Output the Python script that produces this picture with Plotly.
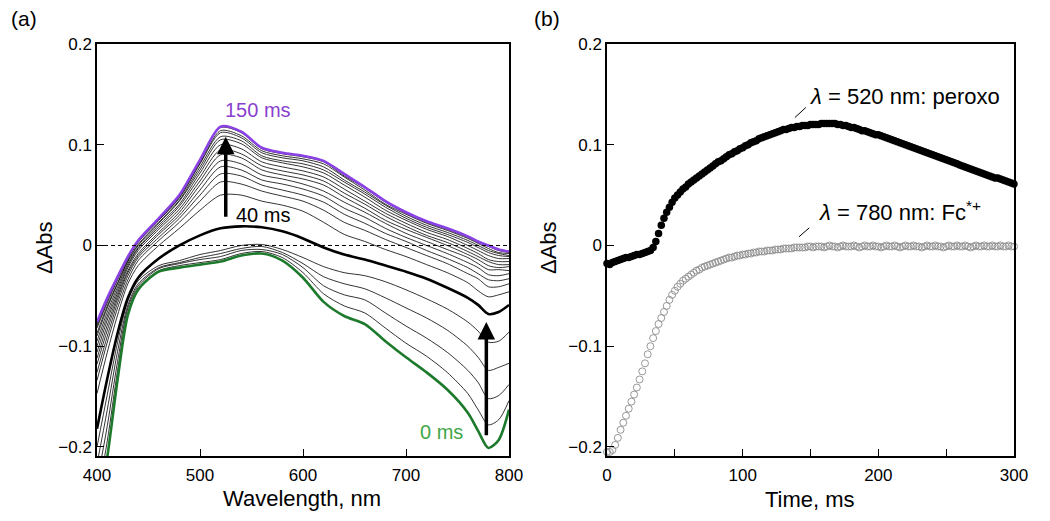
import plotly.graph_objects as go

# ---------------- data: panel (a) spectra ----------------
wavelength = [400, 410, 420, 430, 440, 460, 480, 500, 520, 540, 560, 580, 600,
              620, 640, 660, 680, 700, 720, 740, 760, 770, 780, 790, 800]

s0 = [-0.270, -0.210, -0.133, -0.069, -0.044, -0.026, -0.022, -0.019, -0.016, -0.010, -0.008, -0.015, -0.032,
      -0.056, -0.070, -0.078, -0.095, -0.111, -0.126, -0.143, -0.166, -0.184, -0.201, -0.193, -0.163]
s8 = [-0.252, -0.194, -0.124, -0.066, -0.042, -0.025, -0.020, -0.017, -0.014, -0.008, -0.006, -0.012, -0.027,
      -0.048, -0.060, -0.067, -0.082, -0.097, -0.110, -0.126, -0.147, -0.163, -0.178, -0.173, -0.154]
s16 = [-0.235, -0.179, -0.115, -0.062, -0.040, -0.023, -0.018, -0.014, -0.011, -0.005, -0.004, -0.009, -0.022,
       -0.040, -0.049, -0.054, -0.067, -0.080, -0.092, -0.106, -0.124, -0.136, -0.152, -0.149, -0.138]
s24 = [-0.217, -0.163, -0.105, -0.059, -0.038, -0.022, -0.017, -0.012, -0.008, -0.003, -0.001, -0.007, -0.018,
       -0.031, -0.038, -0.043, -0.052, -0.062, -0.072, -0.084, -0.100, -0.111, -0.124, -0.121, -0.117]
s32 = [-0.200, -0.148, -0.096, -0.055, -0.035, -0.020, -0.015, -0.009, -0.005, 0.000, 0.001, -0.004, -0.012,
       -0.021, -0.027, -0.030, -0.036, -0.044, -0.053, -0.063, -0.076, -0.085, -0.096, -0.095, -0.086]
s40 = [-0.182, -0.132, -0.087, -0.052, -0.032, -0.013, 0.000, 0.010, 0.017, 0.019, 0.018, 0.014, 0.007,
       -0.002, -0.009, -0.014, -0.020, -0.026, -0.033, -0.042, -0.052, -0.059, -0.068, -0.066, -0.059]
s48 = [-0.147, -0.106, -0.069, -0.038, -0.020, 0.000, 0.017, 0.035, 0.050, 0.050, 0.044, 0.040, 0.034,
       0.023, 0.011, 0.004, -0.004, -0.011, -0.019, -0.027, -0.037, -0.045, -0.051, -0.049, -0.046]
s56 = [-0.134, -0.096, -0.062, -0.034, -0.015, 0.005, 0.023, 0.044, 0.063, 0.061, 0.054, 0.049, 0.044,
       0.035, 0.023, 0.015, 0.006, -0.002, -0.010, -0.018, -0.028, -0.033, -0.041, -0.041, -0.038]
s64 = [-0.126, -0.090, -0.057, -0.030, -0.012, 0.008, 0.027, 0.050, 0.071, 0.069, 0.060, 0.055, 0.050,
       0.043, 0.031, 0.022, 0.012, 0.004, -0.005, -0.013, -0.022, -0.028, -0.034, -0.035, -0.033]
s72 = [-0.118, -0.084, -0.053, -0.027, -0.010, 0.011, 0.030, 0.055, 0.078, 0.075, 0.065, 0.061, 0.056,
       0.049, 0.037, 0.028, 0.017, 0.008, 0.000, -0.008, -0.017, -0.022, -0.029, -0.030, -0.028]
s80 = [-0.112, -0.079, -0.050, -0.025, -0.008, 0.013, 0.033, 0.060, 0.084, 0.081, 0.070, 0.066, 0.061,
       0.054, 0.043, 0.033, 0.022, 0.012, 0.004, -0.004, -0.012, -0.018, -0.024, -0.024, -0.025]
s88 = [-0.106, -0.074, -0.047, -0.022, -0.005, 0.016, 0.036, 0.064, 0.090, 0.087, 0.075, 0.070, 0.066,
       0.060, 0.048, 0.037, 0.025, 0.016, 0.008, 0.000, -0.009, -0.014, -0.020, -0.022, -0.021]
s96 = [-0.100, -0.070, -0.044, -0.020, -0.003, 0.018, 0.039, 0.068, 0.095, 0.091, 0.079, 0.074, 0.070,
       0.064, 0.052, 0.041, 0.029, 0.019, 0.010, 0.003, -0.006, -0.011, -0.016, -0.019, -0.019]
s104 = [-0.095, -0.066, -0.041, -0.018, -0.002, 0.020, 0.041, 0.072, 0.100, 0.096, 0.083, 0.078, 0.074,
        0.068, 0.056, 0.044, 0.032, 0.022, 0.013, 0.006, -0.003, -0.008, -0.014, -0.016, -0.016]
s112 = [-0.090, -0.062, -0.038, -0.016, 0.000, 0.022, 0.044, 0.075, 0.105, 0.101, 0.087, 0.082, 0.078,
        0.072, 0.060, 0.048, 0.035, 0.025, 0.016, 0.009, 0.000, -0.005, -0.010, -0.013, -0.013]
s120 = [-0.087, -0.060, -0.037, -0.015, 0.001, 0.023, 0.045, 0.078, 0.108, 0.104, 0.089, 0.084, 0.081,
        0.075, 0.063, 0.051, 0.038, 0.027, 0.018, 0.011, 0.003, -0.002, -0.007, -0.010, -0.011]
s128 = [-0.082, -0.057, -0.034, -0.013, 0.003, 0.025, 0.047, 0.081, 0.112, 0.107, 0.092, 0.087, 0.084,
        0.078, 0.065, 0.053, 0.040, 0.029, 0.020, 0.013, 0.005, 0.000, -0.005, -0.008, -0.010]
s136 = [-0.080, -0.055, -0.033, -0.013, 0.004, 0.025, 0.048, 0.082, 0.114, 0.109, 0.094, 0.089, 0.086,
        0.081, 0.068, 0.055, 0.041, 0.031, 0.022, 0.015, 0.007, 0.002, -0.003, -0.007, -0.008]
s144 = [-0.078, -0.053, -0.032, -0.012, 0.004, 0.026, 0.049, 0.084, 0.117, 0.112, 0.096, 0.091, 0.088,
        0.083, 0.069, 0.057, 0.043, 0.032, 0.023, 0.016, 0.008, 0.003, -0.001, -0.005, -0.007]
s150 = [-0.076, -0.052, -0.031, -0.011, 0.005, 0.027, 0.050, 0.085, 0.118, 0.113, 0.097, 0.092, 0.089,
        0.084, 0.071, 0.058, 0.044, 0.033, 0.024, 0.017, 0.009, 0.004, 0.000, -0.004, -0.006]

thin_spectra = [s8, s16, s24, s32, s48, s56, s64, s72, s80, s88, s96, s104, s112, s120, s128, s136, s144]

# ---------------- data: panel (b) kinetics ----------------
time_ms = list(range(0, 301, 2))
abs_520 = [
    -0.018, -0.019, -0.017, -0.016, -0.015, -0.014, -0.013, -0.012, -0.012, -0.011,
    -0.010, -0.009, -0.009, -0.008, -0.007, -0.006, -0.005, -0.002, 0.004, 0.012,
    0.020, 0.027, 0.033, 0.038, 0.043, 0.047, 0.050, 0.053, 0.056, 0.058,
    0.061, 0.063, 0.065, 0.067, 0.069, 0.071, 0.073, 0.075, 0.077, 0.079,
    0.081, 0.083, 0.084, 0.086, 0.088, 0.090, 0.091, 0.093, 0.094, 0.096,
    0.097, 0.099, 0.100, 0.102, 0.103, 0.104, 0.106, 0.107, 0.108, 0.109,
    0.110, 0.111, 0.112, 0.113, 0.114, 0.115, 0.115, 0.116, 0.117, 0.117,
    0.118, 0.118, 0.119, 0.119, 0.119, 0.120, 0.120, 0.120, 0.120, 0.121,
    0.121, 0.121, 0.121, 0.121, 0.121, 0.120, 0.120, 0.119, 0.119, 0.118,
    0.117, 0.117, 0.116, 0.115, 0.114, 0.114, 0.113, 0.112, 0.111, 0.110,
    0.110, 0.109, 0.108, 0.107, 0.106, 0.105, 0.104, 0.103, 0.102, 0.101,
    0.100, 0.099, 0.098, 0.097, 0.096, 0.095, 0.094, 0.093, 0.092, 0.091,
    0.090, 0.089, 0.088, 0.087, 0.086, 0.085, 0.084, 0.083, 0.082, 0.081,
    0.080, 0.079, 0.078, 0.077, 0.076, 0.075, 0.074, 0.073, 0.072, 0.071,
    0.070, 0.069, 0.068, 0.067, 0.067, 0.066, 0.065, 0.064, 0.063, 0.062,
    0.061]
abs_780 = [
    -0.205, -0.205, -0.203, -0.198, -0.191, -0.183, -0.176, -0.169, -0.162, -0.155,
    -0.148, -0.141, -0.133, -0.125, -0.117, -0.108, -0.100, -0.092, -0.085, -0.078,
    -0.072, -0.066, -0.060, -0.054, -0.049, -0.045, -0.041, -0.038, -0.035, -0.033,
    -0.031, -0.029, -0.027, -0.025, -0.024, -0.022, -0.021, -0.020, -0.019, -0.018,
    -0.017, -0.016, -0.015, -0.014, -0.013, -0.012, -0.012, -0.011, -0.010, -0.010,
    -0.009, -0.009, -0.008, -0.008, -0.007, -0.007, -0.006, -0.006, -0.006, -0.005,
    -0.005, -0.005, -0.004, -0.004, -0.004, -0.003, -0.003, -0.003, -0.003, -0.002,
    -0.002, -0.002, -0.002, -0.002, -0.001, -0.001, -0.002, -0.001, -0.001, -0.001,
    -0.002, -0.001, 0.000, -0.001, -0.001, -0.002, -0.001, 0.000, -0.001, -0.001,
    -0.001, 0.000, -0.001, -0.002, -0.001, 0.000, -0.001, -0.001, 0.000, -0.001,
    -0.001, -0.002, -0.001, 0.000, -0.001, -0.001, 0.000, -0.001, -0.002, -0.001,
    0.000, -0.001, -0.001, 0.000, -0.001, -0.001, -0.002, -0.001, 0.000, -0.001,
    -0.001, 0.000, -0.001, -0.001, -0.002, -0.001, 0.000, -0.001, -0.001, 0.000,
    -0.001, -0.001, 0.000, -0.001, -0.002, -0.001, 0.000, -0.001, -0.001, 0.000,
    -0.001, -0.001, 0.000, -0.001, -0.001, 0.000, -0.001, -0.001, 0.000, -0.001,
    -0.001]

# ---------------- figure ----------------
W, H = 1050, 521
OFF = 8  # page body margin offset (px) to compensate
FONT = "Liberation Sans, Arial, Helvetica, sans-serif"
GREEN = "#1d7a2c"
GREEN_TXT = "#3fa648"
PURPLE = "#8a41e6"
PURPLE_TXT = "#8a3fd0"

# target positions on screen (px)
AX_L, AX_R = 97, 509
BX_L, BX_R = 607, 1014
TOP, BOT = 44, 456
PH = BOT - TOP

fig = go.Figure()

for s in thin_spectra:
    fig.add_trace(go.Scatter(x=wavelength, y=s, mode="lines", xaxis="x", yaxis="y",
                             line=dict(color="black", width=0.8, shape="spline", smoothing=0.8),
                             showlegend=False, hoverinfo="skip"))
fig.add_trace(go.Scatter(x=wavelength, y=s40, mode="lines", xaxis="x", yaxis="y",
                         line=dict(color="black", width=2.6, shape="spline", smoothing=0.8), showlegend=False))
fig.add_trace(go.Scatter(x=wavelength, y=s0, mode="lines", xaxis="x", yaxis="y",
                         line=dict(color=GREEN, width=2.6, shape="spline", smoothing=0.8), showlegend=False))
fig.add_trace(go.Scatter(x=wavelength, y=s150, mode="lines", xaxis="x", yaxis="y",
                         line=dict(color=PURPLE, width=2.6, shape="spline", smoothing=0.8), showlegend=False))

# panel (b)
fig.add_trace(go.Scatter(x=time_ms, y=abs_780, mode="markers", xaxis="x2", yaxis="y2",
                         marker=dict(symbol="circle-open", size=7, color="#8c8c8c", line=dict(width=0.9)),
                         showlegend=False, cliponaxis=False))
fig.add_trace(go.Scatter(x=time_ms, y=abs_520, mode="markers", xaxis="x2", yaxis="y2",
                         marker=dict(symbol="circle", size=7.5, color="black"),
                         showlegend=False, cliponaxis=False))

YR = [-0.209, 0.2]
ax_common = dict(showline=True, linecolor="black", linewidth=1.5, mirror=True,
                 ticks="inside", ticklen=7, tickwidth=1.3, tickcolor="black",
                 showgrid=False, zeroline=False, automargin=False,
                 tickfont=dict(family=FONT, size=17, color="black"))

fig.update_layout(
    width=W, height=H,
    margin=dict(l=0, r=0, t=TOP - OFF, b=H - (BOT - OFF), pad=0, autoexpand=False),
    paper_bgcolor="white", plot_bgcolor="white",
    font=dict(family=FONT, color="black"),
    xaxis=dict(domain=[(AX_L - OFF) / W, (AX_R - OFF) / W], range=[400, 800],
               tickvals=[400, 500, 600, 700, 800], anchor="y", ticklabelstandoff=3, **ax_common),
    yaxis=dict(domain=[0, 1], range=YR, tickvals=[-0.2, -0.1, 0, 0.1, 0.2],
               ticktext=["\u22120.2", "\u22120.1", "0", "0.1", "0.2"], anchor="x", **ax_common),
    xaxis2=dict(domain=[(BX_L - OFF) / W, (BX_R - OFF) / W], range=[0, 300], tickvals=[0, 100, 200, 300],
                minor=dict(tickvals=[50, 150, 250], ticks="inside", ticklen=7, tickwidth=1.3, tickcolor="black"),
                anchor="y2", ticklabelstandoff=3, **ax_common),
    yaxis2=dict(domain=[0, 1], range=YR, tickvals=[-0.2, -0.1, 0, 0.1, 0.2],
                ticktext=["\u22120.2", "\u22120.1", "0", "0.1", "0.2"], anchor="x2", **ax_common),
)

# dashed zero line in (a)
fig.add_shape(type="line", xref="x", yref="y", x0=400, x1=800, y0=0, y1=0,
              line=dict(color="black", width=1, dash="4px,3px"))

# leader lines in (b)
fig.add_shape(type="line", xref="x2", yref="y2", x0=138.5, y0=0.127, x1=146.6, y1=0.137,
              line=dict(color="black", width=1))
fig.add_shape(type="line", xref="x2", yref="y2", x0=141.5, y0=0.0086, x1=149.1, y1=0.0175,
              line=dict(color="black", width=1))

# arrows in (a)
fig.add_annotation(xref="x", yref="y", axref="x", ayref="y", x=525, y=0.108, ax=525, ay=0.027,
                   text="", showarrow=True, arrowhead=2, arrowsize=1.0, arrowwidth=3.5, arrowcolor="black")
fig.add_annotation(xref="x", yref="y", axref="x", ayref="y", x=778, y=-0.076, ax=778, ay=-0.19,
                   text="", showarrow=True, arrowhead=2, arrowsize=1.0, arrowwidth=3.5, arrowcolor="black")


def ptxt(text, x, y, size, color="black", xanchor="center", textangle=0, xref="paper", yref="paper"):
    fig.add_annotation(xref=xref, yref=yref, x=x, y=y, text=text, showarrow=False,
                       xanchor=xanchor, yanchor="middle", textangle=textangle,
                       font=dict(family=FONT, size=size, color=color))


def px2paper(px, py):
    return (px - OFF) / W, (BOT - py) / PH


# labels in (a)
ptxt("150 ms", 556, 0.1345, 20, PURPLE_TXT, xref="x", yref="y")
ptxt("40 ms", 561, 0.030, 20, "black", xref="x", yref="y")
ptxt("0 ms", 734.5, -0.185, 20, GREEN_TXT, xref="x", yref="y")

# labels in (b)
ptxt("<i>λ</i> = 520 nm: peroxo", 148.0, 0.148, 22, xanchor="left", xref="x2", yref="y2")
ptxt("<i>λ</i> = 780 nm: Fc<sup>*+</sup>", 154.5, 0.034, 22, xanchor="left", xref="x2", yref="y2")

# panel letters and axis titles
x, y = px2paper(24, 19); ptxt("(a)", x, y, 21)
x, y = px2paper(547, 19); ptxt("(b)", x, y, 21)
x, y = px2paper(302, 498); ptxt("Wavelength, nm", x, y, 22)
x, y = px2paper(810, 499); ptxt("Time, ms", x, y, 22)
x, y = px2paper(44, 248); ptxt("ΔAbs", x, y, 22, textangle=-90)
x, y = px2paper(548, 248); ptxt("ΔAbs", x, y, 22, textangle=-90)

fig.write_html("out.html")
